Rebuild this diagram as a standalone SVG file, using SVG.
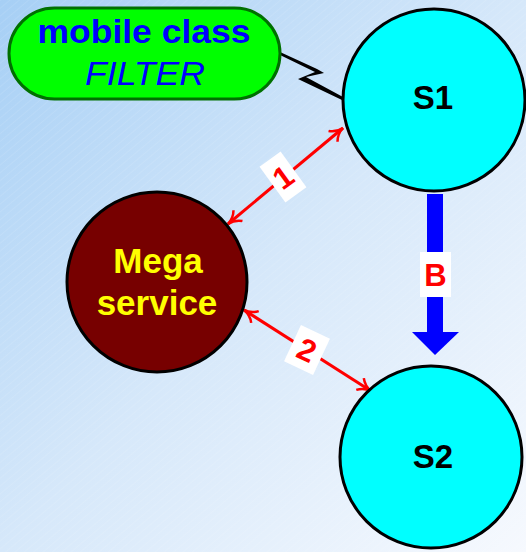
<svg xmlns="http://www.w3.org/2000/svg" width="526" height="552" viewBox="0 0 526 552">
<style>
.node{stroke:#000;stroke-width:3}
.lbl{font-family:"Liberation Sans",Arial,sans-serif;font-weight:bold;text-anchor:middle}
.red{stroke:#ff0000;stroke-width:3;fill:none}
</style>
<defs>
<linearGradient id="bg" x1="0" y1="0" x2="1" y2="1">
<stop offset="0" stop-color="#a6cff5"/>
<stop offset="0.5" stop-color="#d6e8fa"/>
<stop offset="1" stop-color="#f6f9fe"/>
</linearGradient>
<pattern id="stripes" width="6" height="6" patternUnits="userSpaceOnUse" patternTransform="rotate(-40)">
<line x1="0" y1="0" x2="6" y2="0" stroke="#ffffff" stroke-opacity="0.18" stroke-width="1"/>
</pattern>
<marker id="vh" viewBox="0 0 16 16" refX="15" refY="8" markerWidth="16" markerHeight="16" markerUnits="userSpaceOnUse" orient="auto-start-reverse">
<path d="M2,1 Q7,7 15,8 Q7,9 2,15" fill="none" stroke="#ff0000" stroke-width="2.5"/>
</marker>
</defs>
<rect width="526" height="552" fill="url(#bg)"/>
<rect width="526" height="552" fill="url(#stripes)"/>
<g id="connectors">
<polygon points="280,52 317,69 324,73 306,77 343,97 342,100 298,79 315,72 280,55" fill="#000"/>
<line x1="343" y1="128" x2="228" y2="224" class="red" marker-start="url(#vh)" marker-end="url(#vh)"/>
<g transform="translate(283,177) rotate(-36)">
<rect x="-13" y="-22" width="26" height="44" fill="#fff"/>
<text x="0" y="11" class="lbl" font-size="31" fill="#ff0000">1</text>
</g>
<line x1="244" y1="310" x2="371" y2="391" class="red" marker-start="url(#vh)" marker-end="url(#vh)"/>
<g transform="translate(307,350) rotate(25)">
<rect x="-16" y="-20" width="32" height="40" fill="#fff"/>
<text x="0" y="11" class="lbl" font-size="31" fill="#ff0000">2</text>
</g>
<g id="arrowB">
<rect x="427" y="194" width="16" height="140" fill="#0000ff"/>
<polygon points="412,332 459,332 435,355" fill="#0000ff"/>
<rect x="420" y="252" width="31" height="45" fill="#fff"/>
<text x="435.5" y="286" class="lbl" font-size="31" fill="#ff0000">B</text>
</g>
</g>
<g id="filter">
<rect x="9" y="8" width="271" height="91" rx="45.5" fill="#00ff00" stroke="#007000" stroke-width="3"/>
<text x="144" y="43" class="lbl" font-size="33" fill="#0000ff" textLength="213" lengthAdjust="spacingAndGlyphs">mobile class</text>
<text x="145" y="85" font-family="Liberation Sans,Arial,sans-serif" font-style="italic" text-anchor="middle" font-size="34" fill="#0000ff" textLength="120" lengthAdjust="spacingAndGlyphs">FILTER</text>
</g>
<g id="S1">
<circle cx="434" cy="100" r="91" fill="#00ffff" class="node"/>
<text x="433" y="109" class="lbl" font-size="33" fill="#000">S1</text>
</g>
<g id="S2">
<circle cx="431" cy="457" r="91" fill="#00ffff" class="node"/>
<text x="433" y="468" class="lbl" font-size="33" fill="#000">S2</text>
</g>
<g id="mega">
<circle cx="157" cy="282" r="90" fill="#770000" class="node"/>
<text x="158" y="273" class="lbl" font-size="35" fill="#ffff00">Mega</text>
<text x="157" y="315" class="lbl" font-size="35" fill="#ffff00">service</text>
</g>
</svg>
